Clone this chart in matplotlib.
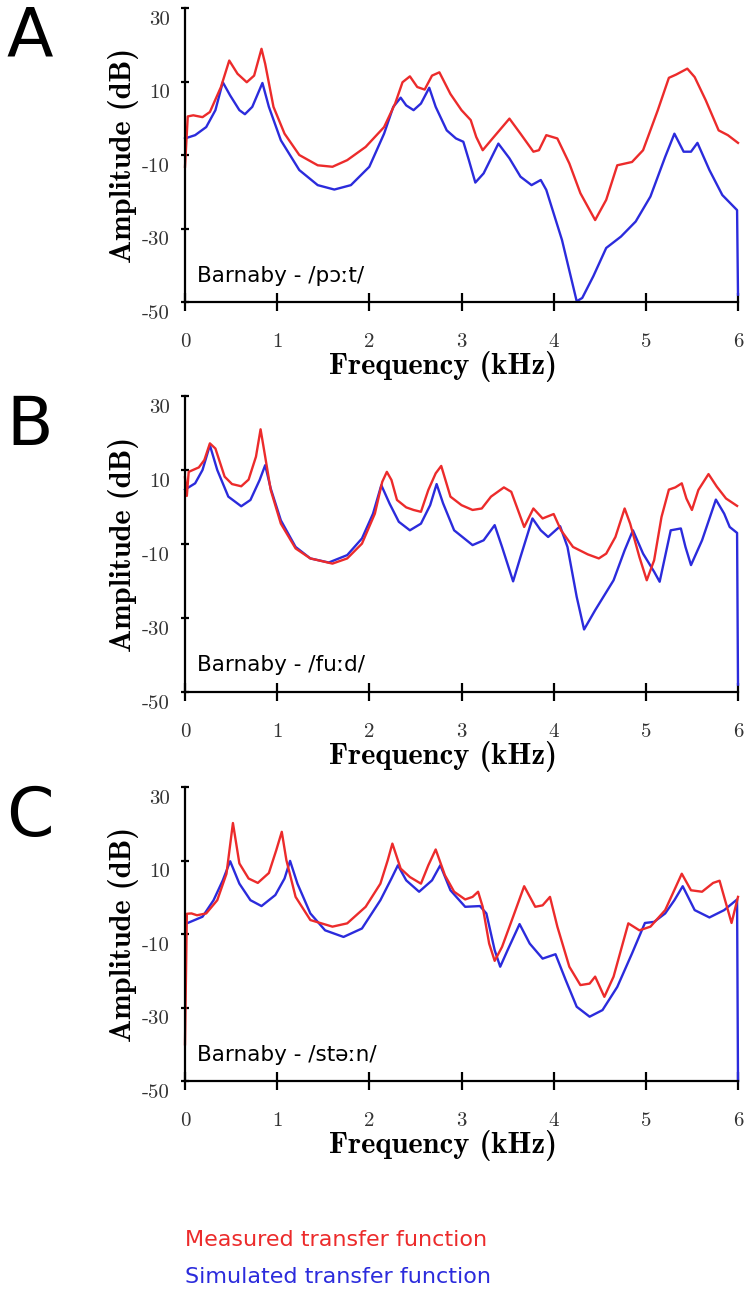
import matplotlib
matplotlib.use("Agg")
import matplotlib.pyplot as plt
from matplotlib.transforms import ScaledTranslation

plt.rcParams['axes.unicode_minus'] = False

# ---- data (frequency in kHz, amplitude in dB) ----
a_meas_f = [0.0, 0.03, 0.09, 0.19, 0.27, 0.39, 0.48, 0.57, 0.67, 0.75, 0.83, 0.87, 0.96, 1.08,
            1.24, 1.44, 1.60, 1.76, 1.96, 2.16, 2.28, 2.36, 2.44, 2.52, 2.60, 2.68, 2.76, 2.88,
            3.00, 3.10, 3.16, 3.23, 3.32, 3.52, 3.64, 3.78, 3.84, 3.92, 4.04, 4.17, 4.29, 4.45,
            4.57, 4.69, 4.85, 4.97, 5.13, 5.25, 5.33, 5.45, 5.53, 5.65, 5.79, 5.89, 6.0]
a_meas_db = [-13.2, 0.5, 0.8, 0.3, 1.7, 8.5, 15.7, 12.1, 9.8, 11.6, 18.9, 14.8, 3.1, -4.2,
             -10.0, -12.8, -13.2, -11.4, -7.8, -2.4, 4.0, 9.8, 11.4, 8.5, 7.8, 11.6, 12.5, 6.6,
             2.2, -0.5, -5.1, -8.7, -6.0, -0.1, -4.2, -9.1, -8.7, -4.6, -5.5, -12.3, -20.4, -27.7,
             -22.2, -12.8, -11.9, -8.7, 2.2, 11.0, 11.9, 13.5, 11.2, 4.9, -3.3, -4.6, -6.7]
a_sim_f = [0.0, 0.11, 0.23, 0.33, 0.41, 0.49, 0.59, 0.65, 0.73, 0.84, 0.91, 1.04, 1.24, 1.44,
           1.62, 1.80, 2.00, 2.16, 2.26, 2.34, 2.40, 2.48, 2.56, 2.65, 2.72, 2.84, 2.94, 3.02,
           3.08, 3.15, 3.24, 3.40, 3.52, 3.64, 3.76, 3.86, 3.92, 4.09, 4.25, 4.31, 4.43, 4.57,
           4.73, 4.89, 5.05, 5.21, 5.31, 5.41, 5.49, 5.56, 5.69, 5.83, 5.99, 6.0]
a_sim_db = [-5.5, -4.6, -2.4, 2.2, 9.8, 6.2, 2.2, 1.1, 3.1, 9.6, 3.1, -6.0, -14.1, -18.2,
            -19.4, -18.2, -13.2, -4.2, 3.1, 5.6, 3.5, 2.2, 4.0, 8.3, 3.1, -3.3, -5.5, -6.4,
            -11.4, -17.5, -15.0, -6.9, -10.9, -15.9, -18.2, -16.8, -19.5, -33.1, -49.8, -48.9, -43.0, -35.3,
            -32.2, -28.1, -21.3, -10.5, -4.2, -9.1, -9.1, -6.7, -14.1, -20.9, -25.0, -48.0]

b_meas_f = [0.0, 0.02, 0.04, 0.15, 0.21, 0.27, 0.33, 0.43, 0.51, 0.61, 0.69, 0.77, 0.82, 0.87,
            0.93, 1.04, 1.20, 1.36, 1.60, 1.76, 1.92, 2.06, 2.14, 2.19, 2.24, 2.30, 2.40, 2.48,
            2.56, 2.64, 2.72, 2.78, 2.88, 3.00, 3.12, 3.22, 3.32, 3.46, 3.54, 3.68, 3.78, 3.88,
            4.00, 4.08, 4.21, 4.37, 4.49, 4.57, 4.67, 4.77, 4.83, 4.93, 5.01, 5.09, 5.17, 5.25,
            5.32, 5.39, 5.44, 5.50, 5.57, 5.68, 5.77, 5.87, 5.99]
b_meas_db = [8.0, 3.0, 9.5, 10.7, 12.7, 17.2, 15.8, 8.2, 6.2, 5.6, 7.4, 13.6, 21.0, 13.6,
             4.6, -4.5, -11.2, -13.9, -15.3, -13.9, -9.9, -1.8, 6.8, 9.5, 7.3, 1.9, -0.1, -0.8,
             -1.3, 4.6, 9.1, 11.1, 2.8, 0.5, -0.8, -0.4, 2.8, 5.3, 4.1, -5.4, -0.4, -3.1,
             -1.9, -6.3, -10.8, -12.8, -13.9, -12.6, -8.1, -0.4, -4.5, -13.5, -19.8, -14.4, -2.7, 4.7,
             5.3, 6.4, 2.3, -0.8, 4.6, 8.9, 5.5, 2.3, 0.3]
b_sim_f = [0.0, 0.11, 0.19, 0.27, 0.35, 0.47, 0.61, 0.71, 0.81, 0.87, 0.93, 1.04, 1.20, 1.36,
           1.56, 1.76, 1.92, 2.04, 2.13, 2.22, 2.32, 2.44, 2.56, 2.66, 2.73, 2.80, 2.92, 3.12,
           3.24, 3.36, 3.44, 3.56, 3.64, 3.77, 3.86, 3.94, 4.07, 4.15, 4.25, 4.33, 4.45, 4.65,
           4.77, 4.86, 4.97, 5.09, 5.15, 5.27, 5.38, 5.43, 5.49, 5.61, 5.76, 5.85, 5.91, 5.99, 6.0]
b_sim_db = [4.7, 6.4, 10.0, 16.7, 10.0, 2.8, 0.2, 1.9, 7.3, 11.3, 5.0, -3.6, -10.8, -13.9,
            -15.0, -13.0, -8.5, -1.8, 5.9, 0.9, -4.0, -6.3, -4.5, 0.5, 6.2, 1.0, -6.3, -10.3,
            -9.0, -4.9, -10.8, -20.1, -13.5, -3.1, -6.3, -8.1, -5.2, -10.8, -24.3, -33.1, -27.9, -19.8,
            -11.7, -6.3, -12.6, -17.5, -20.2, -6.3, -5.8, -10.8, -15.7, -9.0, 2.0, -1.8, -5.4, -7.0, -48.0]

c_meas_f = [0.0, 0.02, 0.07, 0.13, 0.23, 0.35, 0.45, 0.52, 0.59, 0.69, 0.79, 0.91, 0.99, 1.05,
            1.10, 1.20, 1.36, 1.60, 1.76, 1.96, 2.12, 2.20, 2.25, 2.34, 2.44, 2.56, 2.64, 2.72,
            2.82, 2.92, 3.04, 3.12, 3.18, 3.23, 3.30, 3.36, 3.44, 3.56, 3.68, 3.80, 3.88, 3.96,
            4.04, 4.17, 4.29, 4.39, 4.45, 4.55, 4.65, 4.81, 4.93, 5.05, 5.21, 5.39, 5.49, 5.61,
            5.73, 5.80, 5.87, 5.93, 6.0]
c_meas_db = [-40.0, -4.5, -4.4, -4.9, -4.4, -0.8, 6.4, 20.2, 9.2, 5.1, 3.9, 6.6, 12.8, 17.8,
             10.1, 0.1, -6.2, -8.0, -7.1, -2.6, 3.7, 10.1, 14.6, 7.8, 5.5, 3.7, 8.7, 13.0,
             6.0, 1.5, -0.6, 0.1, 1.5, -2.6, -12.6, -17.3, -13.5, -5.3, 3.0, -2.6, -2.2, 0.1,
             -8.0, -18.9, -23.9, -23.5, -21.6, -27.1, -21.6, -7.1, -9.0, -8.0, -3.5, 6.4, 1.9, 1.5,
             3.9, 4.5, -1.7, -7.0, 0.1]
c_sim_f = [0.02, 0.19, 0.31, 0.41, 0.49, 0.59, 0.71, 0.83, 0.98, 1.08, 1.14, 1.22, 1.36, 1.52,
           1.72, 1.92, 2.12, 2.24, 2.31, 2.40, 2.54, 2.68, 2.77, 2.88, 3.04, 3.20, 3.27, 3.36,
           3.42, 3.50, 3.63, 3.74, 3.88, 4.02, 4.13, 4.25, 4.39, 4.53, 4.69, 4.85, 4.99, 5.09,
           5.21, 5.31, 5.40, 5.53, 5.69, 5.85, 5.99, 6.0]
c_sim_db = [-7.1, -5.3, -0.8, 4.6, 9.8, 3.7, -0.8, -2.4, 0.6, 5.1, 9.9, 3.7, -4.4, -9.0,
            -10.8, -8.5, -0.8, 5.1, 8.7, 4.6, 1.5, 4.6, 8.7, 1.9, -2.6, -2.4, -4.4, -14.4,
            -18.9, -14.4, -7.3, -12.6, -16.7, -15.5, -22.5, -29.8, -32.5, -30.7, -24.4, -15.3, -7.0, -6.7,
            -4.4, -0.8, 3.0, -3.5, -5.5, -3.5, -0.6, -50.0]

panel_letters = ['A', 'B', 'C']
panel_labels = ['Barnaby - /pɔːt/', 'Barnaby - /fuːd/', 'Barnaby - /stəːn/']
x_ticks = [0, 1, 2, 3, 4, 5, 6]
y_ticks = [-50, -30, -10, 10, 30]

RED = '#ec2b2b'
BLUE = '#2b2bdc'

panels = [
    (a_meas_f, a_meas_db, a_sim_f, a_sim_db),
    (b_meas_f, b_meas_db, b_sim_f, b_sim_db),
    (c_meas_f, c_meas_db, c_sim_f, c_sim_db),
]
# axes boxes in figure pixels: (top, bottom)
boxes = [(8, 302), (396, 692), (787, 1081)]

W, H = 750, 1290
fig = plt.figure(figsize=(W / 100, H / 100), dpi=100)
# y tick labels sit a little below their ticks in the original
ylab_shift = ScaledTranslation(0, -7 / 72, fig.dpi_scale_trans)

for i, ((mf, mdb, sf, sdb), (top, bot)) in enumerate(zip(panels, boxes)):
    ax = fig.add_axes([185 / W, 1 - bot / H, 553 / W, (bot - top) / H])
    ax.plot(sf, sdb, color=BLUE, lw=1.7, solid_joinstyle='round', clip_on=False)
    ax.plot(mf, mdb, color=RED, lw=1.7, solid_joinstyle='round', clip_on=False)
    ax.set_xlim(0, 6)
    ax.set_ylim(-50, 30)
    ax.set_xticks(x_ticks)
    ax.set_yticks(y_ticks)
    for s in ['top', 'right']:
        ax.spines[s].set_visible(False)
    for s in ['left', 'bottom']:
        ax.spines[s].set_linewidth(1.6)
    ax.tick_params(axis='x', direction='inout', length=13, width=1.6, labelsize=15, pad=16)
    ax.tick_params(axis='y', direction='inout', length=6, width=1.6, labelsize=15, pad=8)
    for lab in ax.get_xticklabels() + ax.get_yticklabels():
        lab.set_fontfamily('cmr10')
        lab.set_color('#333333')
    for lab in ax.get_yticklabels():
        lab.set_transform(lab.get_transform() + ylab_shift)
    ax.set_xlabel('Frequency (kHz)', fontfamily='cmb10', fontsize=22, labelpad=0)
    ax.xaxis.label.set_x(0.4665)
    ax.set_ylabel('Amplitude (dB)', fontfamily='cmb10', fontsize=22, labelpad=2)
    ax.text(0.022, 0.09, panel_labels[i], transform=ax.transAxes, fontsize=15.5,
            family='DejaVu Sans', va='center', ha='left')
    fig.text(6 / W, 1 - (top + 49) / H, panel_letters[i], fontsize=49,
             family='DejaVu Sans', va='baseline', ha='left')

fig.text(185 / W, 1 - 1240 / H, 'Measured transfer function', color=RED, fontsize=16,
         family='DejaVu Sans', va='center', ha='left')
fig.text(185 / W, 1 - 1277 / H, 'Simulated transfer function', color=BLUE, fontsize=16,
         family='DejaVu Sans', va='center', ha='left')

fig.savefig('out.png', dpi=100)
